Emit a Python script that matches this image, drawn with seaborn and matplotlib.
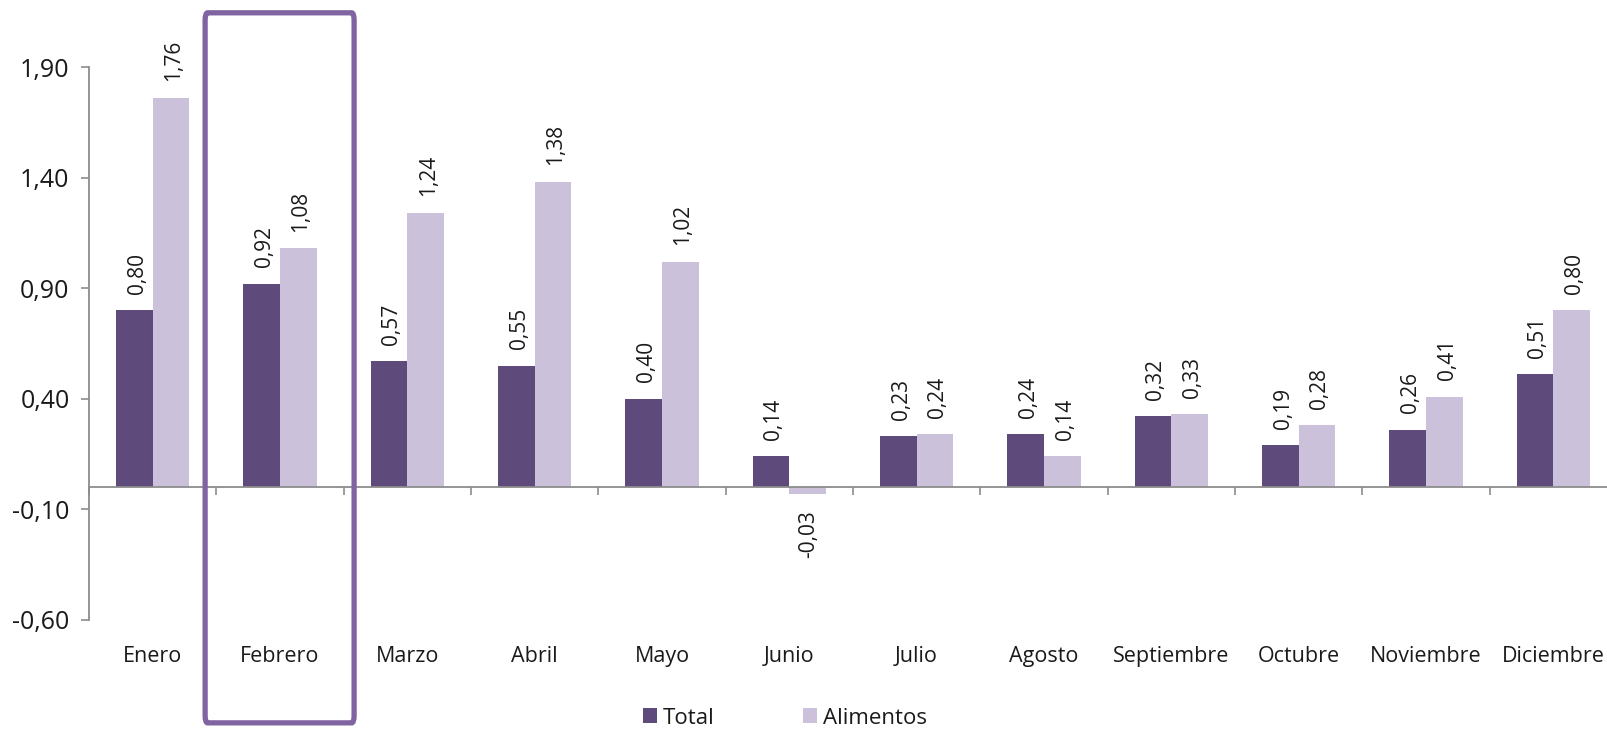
import numpy as np
import pandas as pd
import matplotlib
matplotlib.use("Agg")
import matplotlib.pyplot as plt
from matplotlib.patches import Patch, FancyBboxPatch
import seaborn as sns

meses = ["Enero", "Febrero", "Marzo", "Abril", "Mayo", "Junio", "Julio",
         "Agosto", "Septiembre", "Octubre", "Noviembre", "Diciembre"]
total = [0.80, 0.92, 0.57, 0.55, 0.40, 0.14, 0.23, 0.24, 0.32, 0.19, 0.26, 0.51]
alimentos = [1.76, 1.08, 1.24, 1.38, 1.02, -0.03, 0.24, 0.14, 0.33, 0.28, 0.41, 0.80]
series = ["Total", "Alimentos"]
yticks = [-0.60, -0.10, 0.40, 0.90, 1.40, 1.90]
destacado = "Febrero"

DARK = "#5f4b7b"
LIGHT = "#cbc1db"
FRAME = "#8064a2"
GRAY = "#8c8c8c"
TXT = "#1a1a1a"

sns.set_style("white")
plt.rcParams["font.family"] = ["Open Sans", "DejaVu Sans"]

df = pd.DataFrame({
    "Mes": meses * 2,
    "Valor": total + alimentos,
    "Serie": ["Total"] * len(meses) + ["Alimentos"] * len(meses),
})

fig = plt.figure(figsize=(16.08, 7.30), dpi=100)
ax = fig.add_axes([89 / 1608, 110 / 730, 1528 / 1608, 553 / 730])

sns.barplot(data=df, x="Mes", y="Valor", hue="Serie", order=meses,
            hue_order=series, palette=[DARK, LIGHT], saturation=1,
            width=0.574, gap=0, legend=False, linewidth=0, ax=ax)

ax.set_xlim(-0.5, len(meses) - 0.5)
ax.set_ylim(yticks[0], yticks[-1])
ax.set_xlabel("")
ax.set_ylabel("")

# y axis
ax.set_yticks(yticks)
ax.set_yticklabels([f"{v:.2f}".replace(".", ",") for v in yticks])
ax.tick_params(axis="y", direction="out", length=6, width=1.2, color=GRAY,
               pad=8, labelsize=18, labelcolor=TXT, left=True)

# x axis sits on zero
for s in ["top", "right"]:
    ax.spines[s].set_visible(False)
ax.spines["left"].set_color(GRAY)
ax.spines["left"].set_linewidth(1.3)
ax.spines["bottom"].set_position(("data", 0))
ax.spines["bottom"].set_color(GRAY)
ax.spines["bottom"].set_linewidth(1.3)
ax.set_xticks(np.arange(len(meses)))
ax.set_xticklabels(meses)
ax.set_xticks(np.arange(len(meses) + 1) - 0.5, minor=True)
ax.tick_params(axis="x", which="major", length=0, pad=114, labelsize=15.5,
               labelcolor=TXT)
ax.tick_params(axis="x", which="minor", direction="out", length=6, width=1.2,
               color=GRAY, bottom=True)
ax.grid(False)

# data labels
for cont in ax.containers:
    for bar in cont:
        h = bar.get_height()
        cx = bar.get_x() + bar.get_width() / 2
        txt = f"{h:.2f}".replace(".", ",")
        if h >= 0:
            ax.annotate(txt, (cx, h), xytext=(2, 12), textcoords="offset points",
                        rotation=90, ha="center", va="bottom", fontsize=15,
                        color=TXT, annotation_clip=False)
        else:
            ax.annotate(txt, (cx, h), xytext=(1, -12), textcoords="offset points",
                        rotation=90, ha="center", va="top", fontsize=15,
                        color=TXT, annotation_clip=False)

# highlight frame around the selected month
i = meses.index(destacado)
frame = FancyBboxPatch((i - 0.588, -1.065), 1.17, 3.21,
                       boxstyle="round,pad=0,rounding_size=0.02",
                       fill=False, edgecolor=FRAME, linewidth=3.8,
                       clip_on=False, zorder=5, mutation_aspect=1 / 0.58)
ax.add_patch(frame)

handles = [Patch(facecolor=DARK, edgecolor="none", label=series[0]),
           Patch(facecolor=LIGHT, edgecolor="none", label=series[1])]
fig.legend(handles=handles, loc="center", bbox_to_anchor=(785 / 1608, 12 / 730),
           ncol=2, frameon=False, fontsize=16, handlelength=0.63,
           handleheight=0.63, handletextpad=0.27, columnspacing=3.95,
           labelcolor=TXT)

fig.savefig("out.png", dpi=100)
